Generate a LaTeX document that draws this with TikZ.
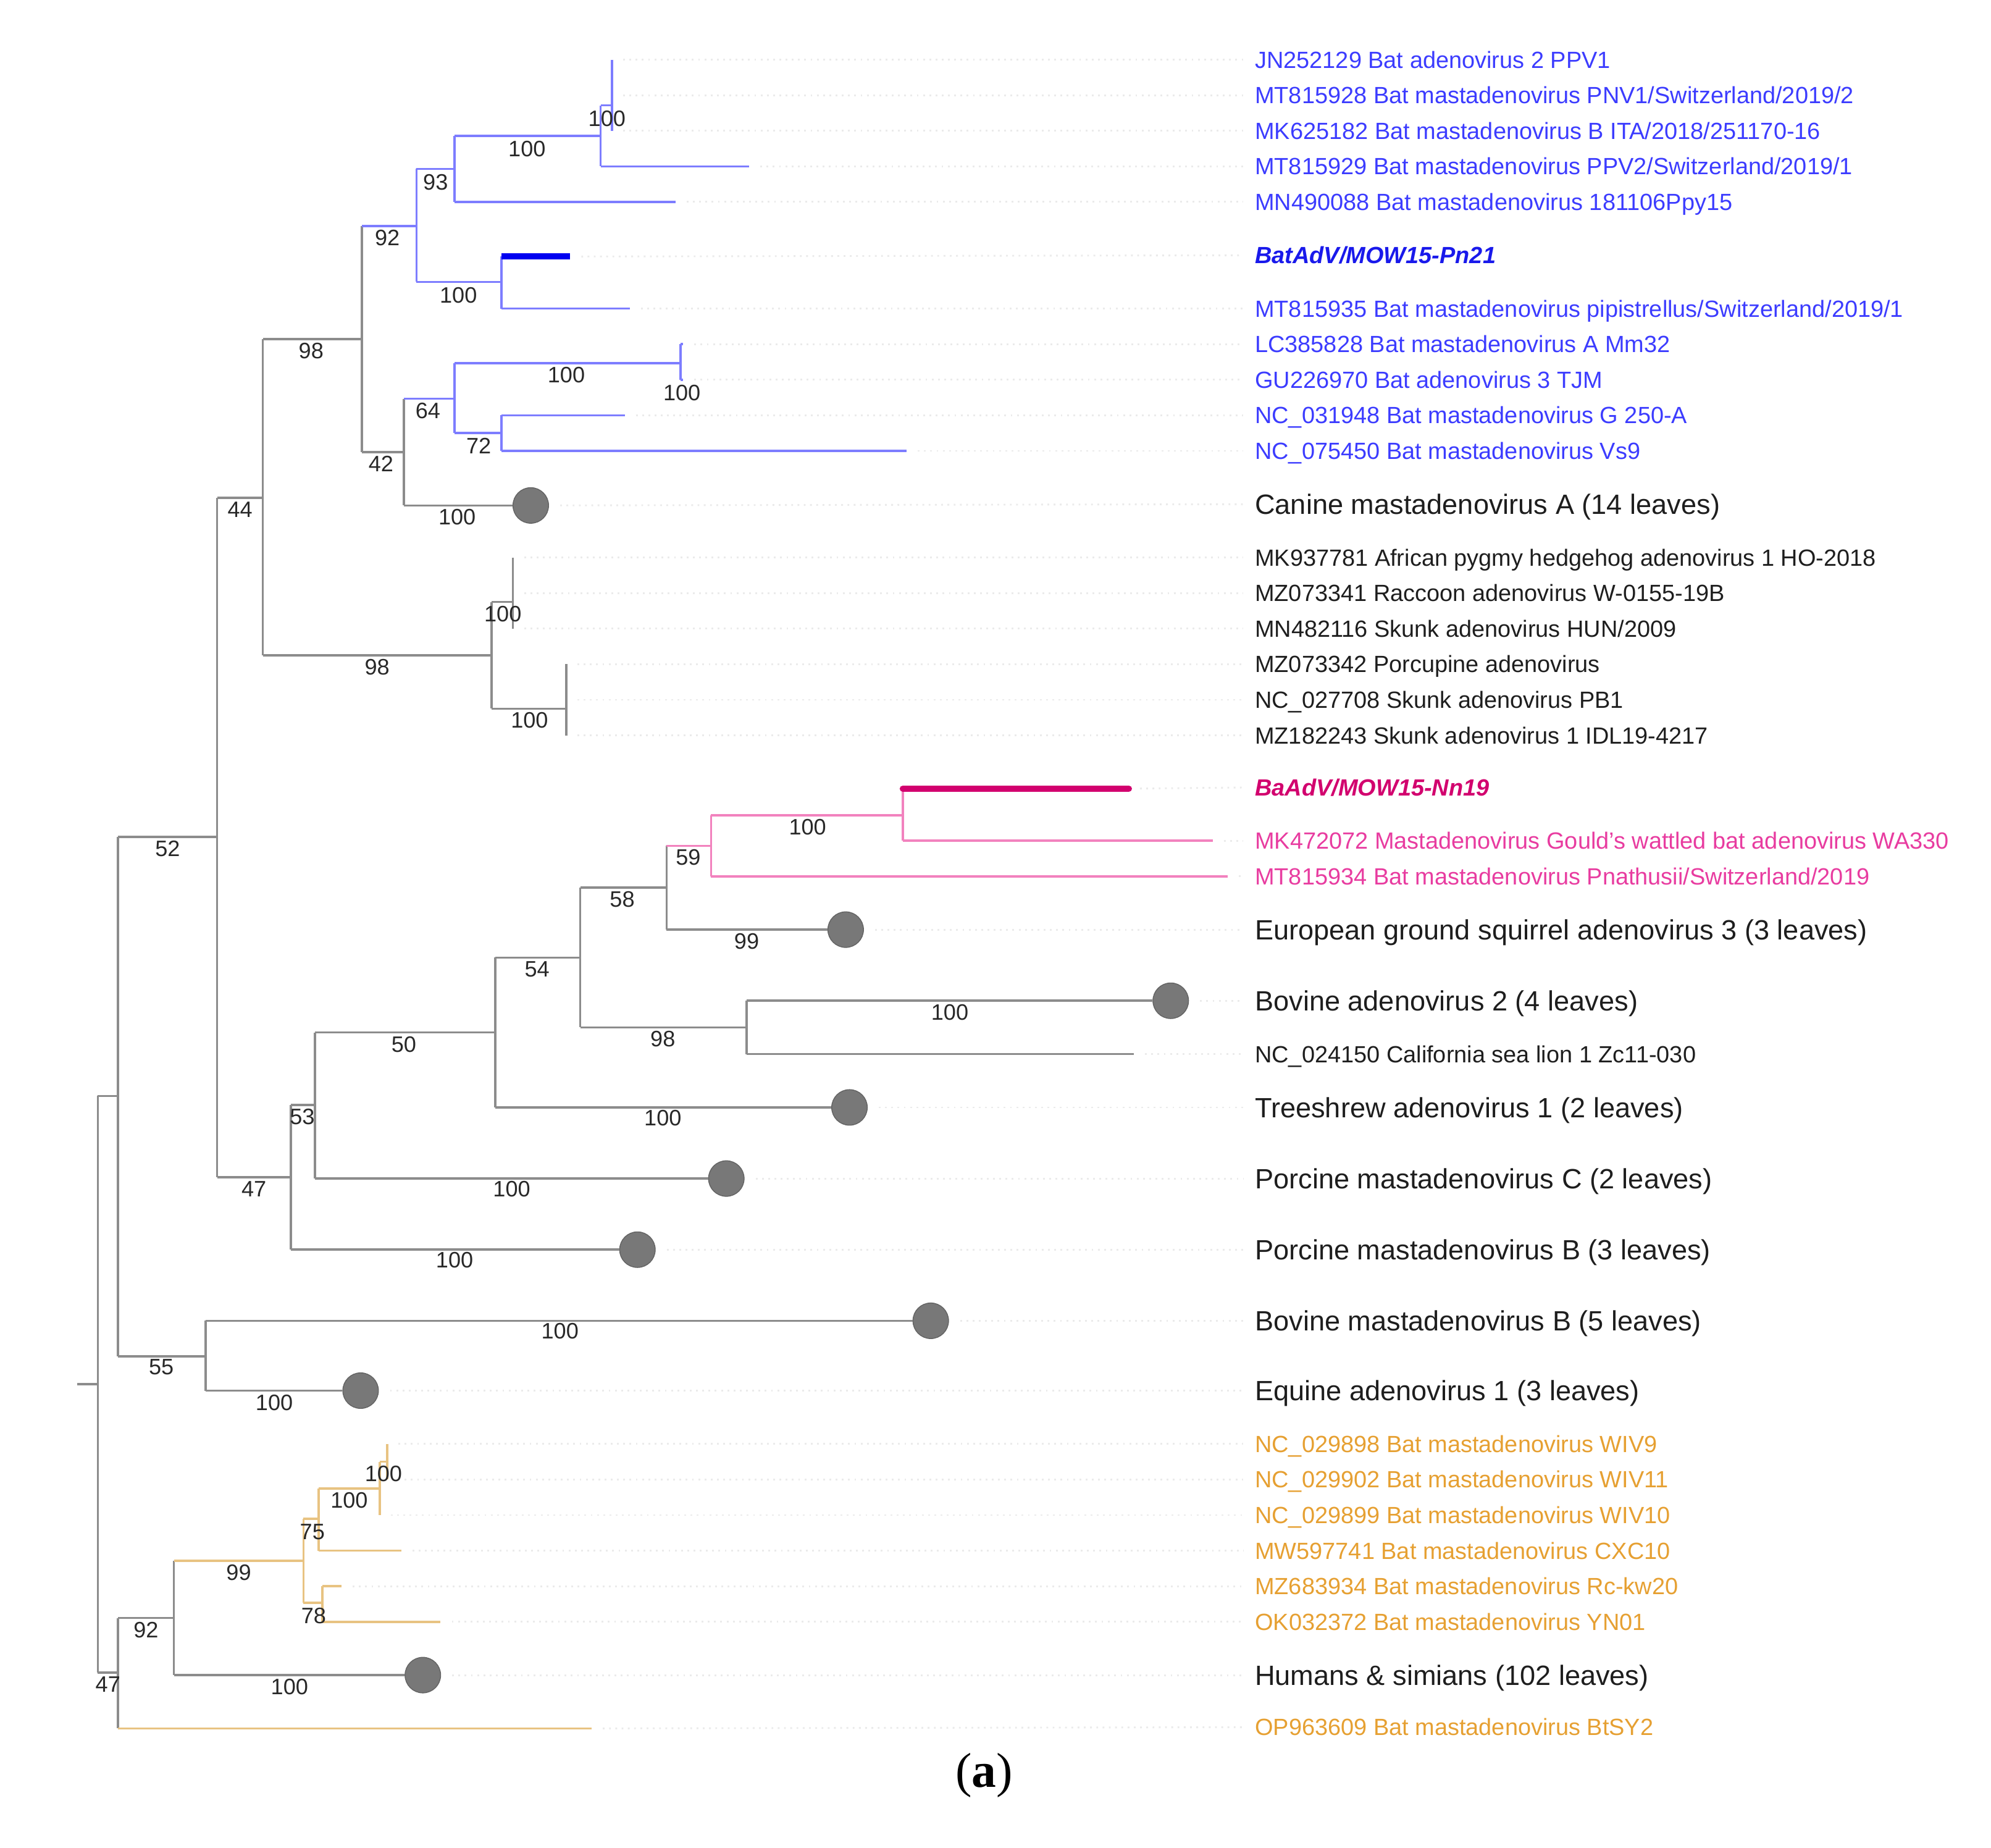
\documentclass[tikz,border=0pt]{standalone}
\usepackage{fontspec}
\setmainfont{Liberation Sans}
\newfontfamily\capserif{Liberation Serif}
\definecolor{treegray}{RGB}{140,140,140}
\definecolor{blueline}{RGB}{125,125,255}
\definecolor{bluetxt}{RGB}{60,60,255}
\definecolor{bluedark}{RGB}{25,25,235}
\definecolor{bluethick}{RGB}{0,0,240}
\definecolor{pinkline}{RGB}{242,130,190}
\definecolor{pinktxt}{RGB}{232,60,160}
\definecolor{magthick}{RGB}{210,0,110}
\definecolor{orangeline}{RGB}{232,195,130}
\definecolor{orangetxt}{RGB}{230,160,50}
\definecolor{cladefill}{RGB}{120,120,120}
\definecolor{cladeedge}{RGB}{100,100,100}
\definecolor{labblack}{RGB}{30,30,30}
\definecolor{numgray}{RGB}{40,40,40}
\begin{document}
\begin{tikzpicture}[x=0.02cm,y=-0.02cm,
  br/.style={line width=1pt,treegray},
  brb/.style={line width=1pt,blueline},
  brp/.style={line width=1pt,pinkline},
  bro/.style={line width=1pt,orangeline},
  thickb/.style={line width=2.8pt,bluethick},
  thickm/.style={line width=2.8pt,magthick,line cap=round},
  lab/.style={anchor=west,inner sep=0pt,font=\fontsize{10.5}{12}\selectfont,text height=7.5pt,text depth=0pt},
  grp/.style={anchor=west,inner sep=0pt,font=\fontsize{12.5}{15}\selectfont,text height=8.9pt,text depth=0pt,text=labblack},
  bs/.style={inner sep=0pt,font=\fontsize{10}{12}\selectfont,text=numgray,text height=7.2pt,text depth=0pt},
  clade/.style={circle,fill=cladefill,draw=cladeedge,line width=0.4pt,minimum size=0.56cm,inner sep=0pt},
  leader/.style={black!8,dotted,line width=0.8pt,shorten <=5pt,shorten >=5pt}
]
\useasboundingbox (0,0) rectangle (1568,1455);

% ---------- leaves ----------
\coordinate (l1) at (482,47);
\coordinate (l2) at (482,75);
\coordinate (l3) at (482,103);
\coordinate (l4) at (590,131);
\coordinate (l5) at (532,159);
\coordinate (l6) at (449,202);
\coordinate (l7) at (496,243);
\coordinate (l8) at (538,271);
\coordinate (l9) at (538,299);
\coordinate (l10) at (492,327);
\coordinate (l11) at (714,355);
\node[clade] (l12) at (418,398) {};
\coordinate (l13) at (404,439);
\coordinate (l14) at (404,467);
\coordinate (l15) at (404,495);
\coordinate (l16) at (446,523);
\coordinate (l17) at (446,551);
\coordinate (l18) at (446,579);
\coordinate (l19) at (889,621);
\coordinate (l20) at (955,662);
\coordinate (l21) at (967,690);
\node[clade] (l22) at (666,732) {};
\node[clade] (l23) at (922,788) {};
\coordinate (l24) at (893,830);
\node[clade] (l25) at (669,872) {};
\node[clade] (l26) at (572,928) {};
\node[clade] (l27) at (502,984) {};
\node[clade] (l28) at (733,1040) {};
\node[clade] (l29) at (284,1095) {};
\coordinate (l30) at (305,1137);
\coordinate (l31) at (305,1165);
\coordinate (l32) at (299,1193);
\coordinate (l33) at (316,1221);
\coordinate (l34) at (269,1249);
\coordinate (l35) at (347,1277);
\node[clade] (l36) at (333,1319) {};
\coordinate (l37) at (466,1361);

% ---------- internal nodes ----------
\coordinate (nA) at (482,83);
\coordinate (nB) at (473,107);
\coordinate (nC) at (358,133);
\coordinate (nE) at (395,222);
\coordinate (nD) at (328,178);
\coordinate (nI) at (536,286);
\coordinate (nJ) at (395,341);
\coordinate (nH) at (358,314);
\coordinate (nG) at (318,356);
\coordinate (nF) at (285,267);
\coordinate (nM) at (404,474);
\coordinate (nN) at (446,558);
\coordinate (nL) at (387,516);
\coordinate (nK) at (207,392);
\coordinate (nX) at (711,642);
\coordinate (nW) at (560,666);
\coordinate (nU) at (525,699);
\coordinate (nV) at (588,809);
\coordinate (nT) at (457,754);
\coordinate (nS) at (390,813);
\coordinate (nR) at (248,870);
\coordinate (nQ) at (229,927);
\coordinate (nP) at (171,659);
\coordinate (nY) at (162,1068);
\coordinate (nZ) at (93,863);
\coordinate (nAG) at (305,1151);
\coordinate (nAF) at (299,1172);
\coordinate (nAD) at (251,1196);
\coordinate (nAE) at (254,1262);
\coordinate (nAC) at (239,1229);
\coordinate (nAB) at (137,1274);
\coordinate (nAA) at (93,1317);
\coordinate (nR0) at (77,1090);
\coordinate (stub) at (61,1090);

% ---------- labels ----------
\node[lab,text=bluetxt] (t1) at (988,47) {JN252129 Bat adenovirus 2 PPV1};
\node[lab,text=bluetxt] (t2) at (988,75) {MT815928 Bat mastadenovirus PNV1/Switzerland/2019/2};
\node[lab,text=bluetxt] (t3) at (988,103) {MK625182 Bat mastadenovirus B ITA/2018/251170-16};
\node[lab,text=bluetxt] (t4) at (988,131) {MT815929 Bat mastadenovirus PPV2/Switzerland/2019/1};
\node[lab,text=bluetxt] (t5) at (988,159) {MN490088 Bat mastadenovirus 181106Ppy15};
\node[lab,text=bluedark,font=\fontsize{10.5}{12}\selectfont\bfseries\itshape] (t6) at (988,201) {BatAdV/MOW15-Pn21};
\node[lab,text=bluetxt] (t7) at (988,243) {MT815935 Bat mastadenovirus pipistrellus/Switzerland/2019/1};
\node[lab,text=bluetxt] (t8) at (988,271) {LC385828 Bat mastadenovirus A Mm32};
\node[lab,text=bluetxt] (t9) at (988,299) {GU226970 Bat adenovirus 3 TJM};
\node[lab,text=bluetxt] (t10) at (988,327) {NC\_031948 Bat mastadenovirus G 250-A};
\node[lab,text=bluetxt] (t11) at (988,355) {NC\_075450 Bat mastadenovirus Vs9};
\node[grp] (t12) at (988,397) {Canine mastadenovirus A (14 leaves)};
\node[lab,text=labblack] (t13) at (988,439) {MK937781 African pygmy hedgehog adenovirus 1 HO-2018};
\node[lab,text=labblack] (t14) at (988,467) {MZ073341 Raccoon adenovirus W-0155-19B};
\node[lab,text=labblack] (t15) at (988,495) {MN482116 Skunk adenovirus HUN/2009};
\node[lab,text=labblack] (t16) at (988,523) {MZ073342 Porcupine adenovirus};
\node[lab,text=labblack] (t17) at (988,551) {NC\_027708 Skunk adenovirus PB1};
\node[lab,text=labblack] (t18) at (988,579) {MZ182243 Skunk adenovirus 1 IDL19-4217};
\node[lab,text=magthick,font=\fontsize{10.5}{12}\selectfont\bfseries\itshape] (t19) at (988,620) {BaAdV/MOW15-Nn19};
\node[lab,text=pinktxt] (t20) at (988,662) {MK472072 Mastadenovirus Gould's wattled bat adenovirus WA330};
\node[lab,text=pinktxt] (t21) at (988,690) {MT815934 Bat mastadenovirus Pnathusii/Switzerland/2019};
\node[grp] (t22) at (988,732) {European ground squirrel adenovirus 3 (3 leaves)};
\node[grp] (t23) at (988,788) {Bovine adenovirus 2 (4 leaves)};
\node[lab,text=labblack] (t24) at (988,830) {NC\_024150 California sea lion 1 Zc11-030};
\node[grp] (t25) at (988,872) {Treeshrew adenovirus 1 (2 leaves)};
\node[grp] (t26) at (988,928) {Porcine mastadenovirus C (2 leaves)};
\node[grp] (t27) at (988,984) {Porcine mastadenovirus B (3 leaves)};
\node[grp] (t28) at (988,1040) {Bovine mastadenovirus B (5 leaves)};
\node[grp] (t29) at (988,1095) {Equine adenovirus 1 (3 leaves)};
\node[lab,text=orangetxt] (t30) at (988,1137) {NC\_029898 Bat mastadenovirus WIV9};
\node[lab,text=orangetxt] (t31) at (988,1165) {NC\_029902 Bat mastadenovirus WIV11};
\node[lab,text=orangetxt] (t32) at (988,1193) {NC\_029899 Bat mastadenovirus WIV10};
\node[lab,text=orangetxt] (t33) at (988,1221) {MW597741 Bat mastadenovirus CXC10};
\node[lab,text=orangetxt] (t34) at (988,1249) {MZ683934 Bat mastadenovirus Rc-kw20};
\node[lab,text=orangetxt] (t35) at (988,1277) {OK032372 Bat mastadenovirus YN01};
\node[grp] (t36) at (988,1319) {Humans \& simians (102 leaves)};
\node[lab,text=orangetxt] (t37) at (988,1360) {OP963609 Bat mastadenovirus BtSY2};

% ---------- leader lines ----------
\foreach \i in {1,...,37} \draw[leader] (l\i) -- (t\i.west);

% ---------- vertical spans (parent colour) ----------
\draw[brb] (nA |- l1) -- (nA |- l3);
\draw[brb] (nB |- nA) -- (nB |- l4);
\draw[brb] (nC |- nB) -- (nC |- l5);
\draw[brb] (nD |- nC) -- (nD |- nE);
\draw[brb] (nE |- l6) -- (nE |- l7);
\draw[br]  (nF |- nD) -- (nF |- nG);
\draw[br]  (nG |- nH) -- (nG |- l12);
\draw[brb] (nH |- nI) -- (nH |- nJ);
\draw[brb] (nI |- l8) -- (nI |- l9);
\draw[brb] (nJ |- l10) -- (nJ |- l11);
\draw[br]  (nK |- nF) -- (nK |- nL);
\draw[br]  (nL |- nM) -- (nL |- nN);
\draw[br]  (nM |- l13) -- (nM |- l15);
\draw[br]  (nN |- l16) -- (nN |- l18);
\draw[br]  (nP |- nK) -- (nP |- nQ);
\draw[br]  (nQ |- nR) -- (nQ |- l27);
\draw[br]  (nR |- nS) -- (nR |- l26);
\draw[br]  (nS |- nT) -- (nS |- l25);
\draw[br]  (nT |- nU) -- (nT |- nV);
\draw[br]  (nU |- nW) -- (nU |- l22);
\draw[brp] (nW |- nX) -- (nW |- l21);
\draw[brp] (nX |- l19) -- (nX |- l20);
\draw[br]  (nV |- l23) -- (nV |- l24);
\draw[br]  (nZ |- nP) -- (nZ |- nY);
\draw[br]  (nY |- l28) -- (nY |- l29);
\draw[br]  (nR0 |- nZ) -- (nR0 |- nAA);
\draw[br]  (nAA |- nAB) -- (nAA |- l37);
\draw[br]  (nAB |- nAC) -- (nAB |- l36);
\draw[bro] (nAC |- nAD) -- (nAC |- nAE);
\draw[bro] (nAD |- nAF) -- (nAD |- l33);
\draw[bro] (nAF |- nAG) -- (nAF |- l32);
\draw[bro] (nAG |- l30) -- (nAG |- l31);
\draw[bro] (nAE |- l34) -- (nAE |- l35);

% ---------- horizontal branches (child colour) ----------
\draw[brb] (nB |- nA) -- (nA);
\draw[brb] (nB |- l4) -- (l4);
\draw[brb] (nC |- nB) -- (nB);
\draw[brb] (nC |- l5) -- (l5);
\draw[brb] (nD |- nC) -- (nC);
\draw[brb] (nD |- nE) -- (nE);
\draw[thickb] (nE |- l6) -- (l6);
\draw[brb] (nE |- l7) -- (l7);
\draw[brb] (nF |- nD) -- (nD);
\draw[br]  (nF |- nG) -- (nG);
\draw[brb] (nG |- nH) -- (nH);
\draw[br]  (nG |- l12) -- (l12);
\draw[brb] (nH |- nI) -- (nI);
\draw[brb] (nH |- nJ) -- (nJ);
\draw[brb] (nI |- l8) -- (l8);
\draw[brb] (nI |- l9) -- (l9);
\draw[brb] (nJ |- l10) -- (l10);
\draw[brb] (nJ |- l11) -- (l11);
\draw[br]  (nK |- nF) -- (nF);
\draw[br]  (nK |- nL) -- (nL);
\draw[br]  (nL |- nM) -- (nM);
\draw[br]  (nL |- nN) -- (nN);
\draw[br]  (nP |- nK) -- (nK);
\draw[br]  (nP |- nQ) -- (nQ);
\draw[br]  (nQ |- nR) -- (nR);
\draw[br]  (nQ |- l27) -- (l27);
\draw[br]  (nR |- nS) -- (nS);
\draw[br]  (nR |- l26) -- (l26);
\draw[br]  (nS |- nT) -- (nT);
\draw[br]  (nS |- l25) -- (l25);
\draw[br]  (nT |- nU) -- (nU);
\draw[br]  (nT |- nV) -- (nV);
\draw[brp] (nU |- nW) -- (nW);
\draw[br]  (nU |- l22) -- (l22);
\draw[brp] (nW |- nX) -- (nX);
\draw[brp] (nW |- l21) -- (l21);
\draw[thickm] (nX |- l19) -- (l19);
\draw[brp] (nX |- l20) -- (l20);
\draw[br]  (nV |- l23) -- (l23);
\draw[br]  (nV |- l24) -- (l24);
\draw[br]  (nZ |- nP) -- (nP);
\draw[br]  (nZ |- nY) -- (nY);
\draw[br]  (nY |- l28) -- (l28);
\draw[br]  (nY |- l29) -- (l29);
\draw[br]  (nR0 |- nZ) -- (nZ);
\draw[br]  (nR0 |- nAA) -- (nAA);
\draw[br]  (stub) -- (nR0);
\draw[br]  (nAA |- nAB) -- (nAB);
\draw[bro] (nAA |- l37) -- (l37);
\draw[bro] (nAB |- nAC) -- (nAC);
\draw[br]  (nAB |- l36) -- (l36);
\draw[bro] (nAC |- nAD) -- (nAD);
\draw[bro] (nAC |- nAE) -- (nAE);
\draw[bro] (nAD |- nAF) -- (nAF);
\draw[bro] (nAD |- l33) -- (l33);
\draw[bro] (nAF |- nAG) -- (nAG);
\draw[bro] (nAE |- l34) -- (l34);
\draw[bro] (nAE |- l35) -- (l35);

% ---------- bootstrap values ----------
\node[bs] (b1) at (478,93) {100};
\node[bs] (b2) at (415,117) {100};
\node[bs] (b3) at (343,143) {93};
\node[bs] (b4) at (305,187) {92};
\node[bs] (b5) at (361,232) {100};
\node[bs] (b6) at (245,276) {98};
\node[bs] (b7) at (446,295) {100};
\node[bs] (b8) at (537,309) {100};
\node[bs] (b9) at (337,323) {64};
\node[bs] (b10) at (377,351) {72};
\node[bs] (b11) at (300,365) {42};
\node[bs] (b12) at (360,407) {100};
\node[bs] (b13) at (189,401) {44};
\node[bs] (b14) at (396,483) {100};
\node[bs] (b15) at (297,525) {98};
\node[bs] (b16) at (417,567) {100};
\node[bs] (b17) at (636,651) {100};
\node[bs] (b18) at (542,675) {59};
\node[bs] (b19) at (132,668) {52};
\node[bs] (b20) at (490,708) {58};
\node[bs] (b21) at (588,741) {99};
\node[bs] (b22) at (423,763) {54};
\node[bs] (b23) at (748,797) {100};
\node[bs] (b24) at (522,818) {98};
\node[bs] (b25) at (318,822) {50};
\node[bs] (b26) at (522,880) {100};
\node[bs] (b27) at (238,879) {53};
\node[bs] (b28) at (200,936) {47};
\node[bs] (b29) at (403,936) {100};
\node[bs] (b30) at (358,992) {100};
\node[bs] (b31) at (441,1048) {100};
\node[bs] (b32) at (127,1076) {55};
\node[bs] (b33) at (216,1104) {100};
\node[bs] (b34) at (302,1160) {100};
\node[bs] (b35) at (275,1181) {100};
\node[bs] (b36) at (246,1206) {75};
\node[bs] (b37) at (188,1238) {99};
\node[bs] (b38) at (247,1272) {78};
\node[bs] (b39) at (115,1283) {92};
\node[bs] (b40) at (228,1328) {100};
\node[bs] (b41) at (85,1326) {47};

% ---------- caption ----------
\node[inner sep=0pt,font=\capserif\fontsize{22}{26}\selectfont] (cap) at (775,1398) {(\textbf{a})};
\end{tikzpicture}
\end{document}
